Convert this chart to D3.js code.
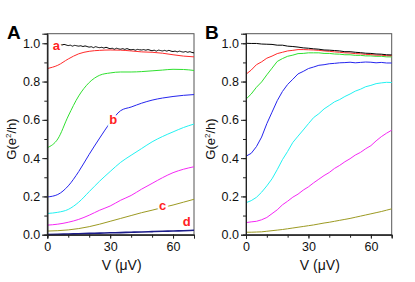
<!DOCTYPE html>
<html><head><meta charset="utf-8">
<script src="https://cdn.jsdelivr.net/npm/d3@7/dist/d3.min.js"></script>
<style>
body{margin:0;background:#fff;}
svg{display:block;font-family:"Liberation Sans",Arial,sans-serif;}
</style></head>
<body><svg id="c" width="415" height="282"></svg>
<script>
// ---- data ----
const vA = [0,5,10,15,20,25,30,35,40,45,50,55,60,65,70];
const vBlackA = d3.range(6, 71, 1);
const blackA = [0.995,0.991,0.994,0.991,0.988,0.990,0.985,0.989,0.987,0.985,0.987,0.983,0.986,0.983,0.980,0.982,0.977,0.982,0.979,0.977,0.979,0.975,0.979,0.975,0.972,0.974,0.969,0.974,0.971,0.969,0.972,0.968,0.972,0.968,0.966,0.968,0.964,0.968,0.966,0.965,0.967,0.964,0.967,0.964,0.961,0.964,0.959,0.964,0.962,0.960,0.963,0.959,0.963,0.959,0.957,0.959,0.955,0.959,0.956,0.954,0.957,0.953,0.956,0.952,0.950];
const redA = [0.868,0.885,0.918,0.945,0.958,0.963,0.965,0.964,0.960,0.955,0.953,0.948,0.940,0.933,0.929];
const greenA = [0.454,0.500,0.620,0.725,0.795,0.833,0.845,0.850,0.850,0.852,0.856,0.860,0.864,0.863,0.858];
const blueA = [0.197,0.210,0.255,0.330,0.420,0.505,0.585,0.648,0.667,0.687,0.703,0.714,0.722,0.728,0.732];
const cyanA = [0.111,0.117,0.132,0.170,0.225,0.280,0.330,0.378,0.415,0.450,0.485,0.513,0.537,0.560,0.578];
const magentaA = [0.050,0.055,0.065,0.080,0.102,0.128,0.150,0.180,0.205,0.238,0.268,0.298,0.324,0.342,0.355];
const oliveA = [0.019,0.021,0.025,0.032,0.042,0.055,0.070,0.085,0.100,0.115,0.128,0.142,0.155,0.170,0.185];
const navyA = [0.001,0.002,0.004,0.005,0.007,0.008,0.010,0.011,0.013,0.014,0.016,0.018,0.019,0.021,0.023];

const vB = d3.range(0, 70.1, 2.5);
const blackB = [1.000,0.999,0.999,0.996,0.995,0.994,0.990,0.990,0.985,0.983,0.980,0.976,0.974,0.971,0.969,0.965,0.964,0.962,0.960,0.956,0.956,0.953,0.951,0.948,0.947,0.944,0.943,0.940,0.939];
const redB = [0.838,0.860,0.888,0.903,0.922,0.933,0.946,0.953,0.960,0.963,0.967,0.967,0.966,0.965,0.963,0.960,0.958,0.955,0.953,0.950,0.949,0.946,0.945,0.942,0.941,0.938,0.938,0.935,0.935];
const greenB = [0.708,0.735,0.770,0.798,0.835,0.870,0.905,0.920,0.932,0.938,0.946,0.947,0.950,0.950,0.950,0.947,0.947,0.944,0.943,0.940,0.940,0.937,0.937,0.934,0.934,0.932,0.932,0.929,0.929];
const blueB = [0.410,0.425,0.460,0.510,0.580,0.640,0.700,0.748,0.785,0.812,0.840,0.853,0.868,0.876,0.885,0.888,0.893,0.895,0.898,0.899,0.901,0.898,0.900,0.902,0.901,0.898,0.900,0.897,0.897];
const cyanB = [0.167,0.178,0.195,0.222,0.255,0.292,0.340,0.392,0.435,0.482,0.515,0.547,0.580,0.612,0.632,0.657,0.675,0.694,0.706,0.722,0.735,0.750,0.760,0.773,0.780,0.789,0.793,0.796,0.795];
const magentaB = [0.063,0.067,0.070,0.078,0.090,0.110,0.130,0.156,0.175,0.196,0.212,0.233,0.250,0.271,0.290,0.309,0.325,0.346,0.362,0.381,0.397,0.416,0.430,0.449,0.465,0.490,0.512,0.530,0.546];
const oliveB = [0.013,0.013,0.014,0.015,0.018,0.021,0.024,0.027,0.031,0.035,0.039,0.043,0.047,0.051,0.056,0.061,0.065,0.070,0.075,0.080,0.085,0.091,0.097,0.103,0.109,0.115,0.121,0.128,0.135];

const xTicks = [0,10,20,30,40,50,60,70];
const xLabels = [0,30,60];
const yTicks = [0,0.1,0.2,0.3,0.4,0.5,0.6,0.7,0.8,0.9,1.0];
const yLabels = [0,0.2,0.4,0.6,0.8,1.0];

const colors = {black:"#000000", red:"#ff2a2a", green:"#2fe02f", blue:"#2525ee", cyan:"#22f2f2", magenta:"#f528f5", olive:"#9c9a22", navy:"#1c1c8a"};

const svg = d3.select("#c");

function panel(opt){
  const x = d3.scaleLinear().domain([0,70]).range([opt.left, opt.right]);
  const y = d3.scaleLinear().domain([0,1.05]).range([234.7, 33.7]);
  const g = svg.append("g");
  g.append("rect").attr("x", opt.left).attr("y", 33.7).attr("width", opt.right-opt.left).attr("height", 234.7-33.7)
    .attr("fill","none").attr("stroke","#555").attr("stroke-width",1);
  const line = d3.line().x(d=>x(d[0])).y(d=>y(d[1])).curve(opt.curve);
  opt.series.forEach(s=>{
    g.append("path").attr("d", line(s.v.map((v,i)=>[v,s.g[i]])))
      .attr("fill","none").attr("stroke", colors[s.c]).attr("stroke-width", s.w||1);
  });
  const minorY = d3.axisLeft(y).tickValues(yTicks).tickSize(3).tickFormat("");
  const majorY = d3.axisLeft(y).tickValues(yLabels).tickSize(5).tickPadding(2).tickFormat(d3.format(".1f"));
  const minorX = d3.axisBottom(x).tickValues(xTicks).tickSize(3).tickFormat("");
  const majorX = d3.axisBottom(x).tickValues(xLabels).tickSize(4).tickPadding(3).tickFormat(d3.format("d"));
  [minorY, majorY].forEach(a=>g.append("g").attr("transform",`translate(${opt.left},0)`).call(a));
  [minorX, majorX].forEach(a=>g.append("g").attr("transform",`translate(0,234.7)`).call(a));
  g.selectAll(".domain").attr("stroke","#222");
  g.selectAll(".tick line").attr("stroke","#222");
  g.selectAll(".tick text").attr("font-size",12.5).attr("fill","#111").attr("font-family","Liberation Sans, Arial, sans-serif");
  const yl = g.append("text").attr("transform",`translate(${opt.left-31},139) rotate(-90)`)
    .attr("text-anchor","middle").attr("font-size",13).attr("fill","#111");
  yl.append("tspan").text("G(e");
  yl.append("tspan").attr("font-size",8).attr("dy",-5).text("2");
  yl.append("tspan").attr("dy",5).text("/h)");
  g.append("text").attr("x",(opt.left+opt.right)/2+1).attr("y",270).attr("text-anchor","middle")
    .attr("font-size",14).attr("fill","#111").text("V (\u03bcV)");
  g.append("text").attr("x",opt.letterX).attr("y",39).attr("font-size",19).attr("font-weight","bold").text(opt.letter);
  return {x,y,g};
}

const pA = panel({left:47.3, right:194, letter:"A", letterX:7, curve:d3.curveMonotoneX, series:[
  {v:vA, g:navyA, c:"navy", w:1.6},
  {v:vA, g:oliveA, c:"olive"},
  {v:vA, g:magentaA, c:"magenta"},
  {v:vA, g:cyanA, c:"cyan"},
  {v:vA, g:blueA, c:"blue"},
  {v:vA, g:greenA, c:"green"},
  {v:vA, g:redA, c:"red"},
  {v:vBlackA, g:blackA, c:"black"}
]});
const pB = panel({left:246, right:391.7, letter:"B", letterX:205, curve:d3.curveLinear, series:[
  {v:vB, g:oliveB, c:"olive"},
  {v:vB, g:magentaB, c:"magenta"},
  {v:vB, g:cyanB, c:"cyan"},
  {v:vB, g:blueB, c:"blue"},
  {v:vB, g:greenB, c:"green"},
  {v:vB, g:redB, c:"red"},
  {v:vB, g:blackB, c:"black"}
]});

const curveLabels = [{t:"a", v:4.3, g:0.990},{t:"b", v:31.5, g:0.600},{t:"c", v:55, g:0.155},{t:"d", v:66.5, g:0.068}];
curveLabels.forEach(l=>{
  pA.g.append("text").attr("x", pA.x(l.v)).attr("y", pA.y(l.g)).attr("dy","0.35em")
    .attr("text-anchor","middle").attr("font-size",13).attr("font-weight","bold")
    .attr("fill","#f22").attr("stroke","#fff").attr("stroke-width",4).attr("paint-order","stroke").text(l.t);
});
</script></body></html>
